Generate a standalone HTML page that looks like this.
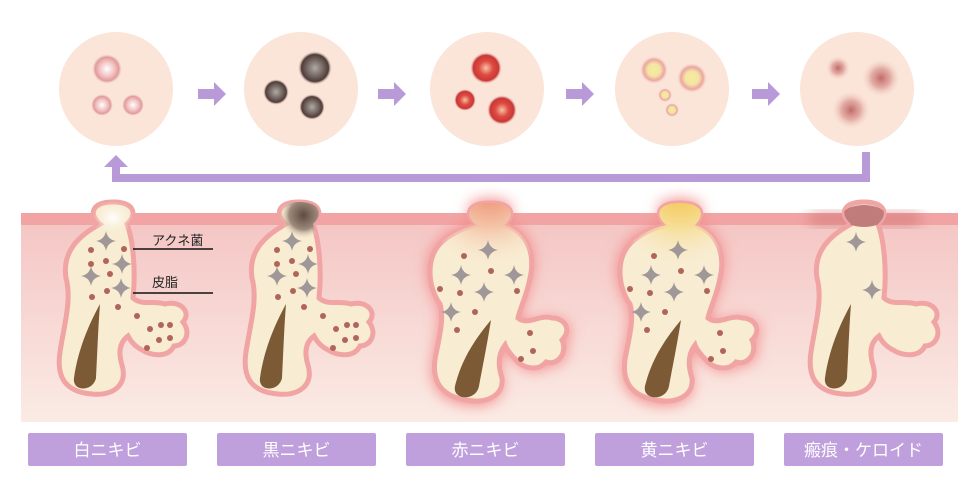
<!DOCTYPE html>
<html><head><meta charset="utf-8"><style>
html,body{margin:0;padding:0;background:#fff;width:980px;height:500px;overflow:hidden}
svg{display:block}
.lb{font-family:"Liberation Sans","Noto Sans CJK JP",sans-serif;font-size:17px;fill:#fff}
.an{font-family:"Liberation Sans","Noto Sans CJK JP",sans-serif;font-size:13px;fill:#222}
</style></head><body>
<svg width="980" height="500" viewBox="0 0 980 500">
<defs>
<linearGradient id="skin" x1="0" y1="0" x2="0" y2="1"><stop offset="0" stop-color="#f4c6c4"/><stop offset="1" stop-color="#fbebe5"/></linearGradient>
<radialGradient id="gw"><stop offset="0" stop-color="#fff"/><stop offset="0.5" stop-color="#f3c2c2"/><stop offset="0.8" stop-color="#e09a9c"/><stop offset="1" stop-color="#f6d8cc" stop-opacity="0"/></radialGradient>
<radialGradient id="gb"><stop offset="0" stop-color="#b0aaa6"/><stop offset="0.55" stop-color="#6e5f5a"/><stop offset="0.8" stop-color="#4e3c38"/><stop offset="1" stop-color="#f6d8cc" stop-opacity="0"/></radialGradient>
<radialGradient id="gr"><stop offset="0" stop-color="#f6c2a8"/><stop offset="0.45" stop-color="#de4a40"/><stop offset="0.8" stop-color="#c83838"/><stop offset="1" stop-color="#f6d8cc" stop-opacity="0"/></radialGradient>
<radialGradient id="gy"><stop offset="0" stop-color="#f6ec9c"/><stop offset="0.45" stop-color="#f4e4a4"/><stop offset="0.75" stop-color="#eca4a0"/><stop offset="1" stop-color="#f6d8cc" stop-opacity="0"/></radialGradient>
<radialGradient id="gs"><stop offset="0" stop-color="#c06a6a"/><stop offset="0.5" stop-color="#d8928c" stop-opacity="0.7"/><stop offset="1" stop-color="#f6d8cc" stop-opacity="0"/></radialGradient>
<radialGradient id="capW"><stop offset="0" stop-color="#fff"/><stop offset="1" stop-color="#f8ecd2" stop-opacity="0"/></radialGradient>
<radialGradient id="capB" cx="0.55" cy="0.4"><stop offset="0" stop-color="#5e4a40"/><stop offset="0.6" stop-color="#9e8a7c"/><stop offset="1" stop-color="#f8ecd2" stop-opacity="0"/></radialGradient>
<radialGradient id="capR" cx="0.5" cy="0.1" r="0.8"><stop offset="0" stop-color="#ec8060"/><stop offset="0.5" stop-color="#f4c0a4"/><stop offset="1" stop-color="#f8ecd2" stop-opacity="0"/></radialGradient>
<radialGradient id="capY" cx="0.5" cy="0.1" r="0.8"><stop offset="0" stop-color="#f2bc38"/><stop offset="0.5" stop-color="#f6dc90"/><stop offset="1" stop-color="#f8ecd2" stop-opacity="0"/></radialGradient>
<filter id="glow" x="-30%" y="-30%" width="160%" height="160%"><feGaussianBlur stdDeviation="7"/></filter>
<path id="fol" d="M100 224 C88 214 92 202 113 202 C134 202 138 214 127 224 C133 240 136 270 133 298 C142 306 152 300 165 304 C180 300 192 312 183 322 C192 334 184 346 174 346 C168 358 152 356 142 350 C134 346 130 340 128 336 C120 342 118 352 122 365 C128 386 112 396 92 394 C66 392 56 378 60 352 C64 325 72 300 66 278 C62 252 78 236 100 224 Z"/>
<path id="hair" d="M100 304 C98 330 97 360 96 378 C93 392 72 392 74 378 C78 350 88 326 100 304 Z"/>
<path id="folR" d="M476 225 C464 214 468 203 490 203 C512 203 516 214 505 225 C526 232 536 252 530 278 C527 295 520 308 518 318 C528 326 540 314 552 318 C565 318 572 330 562 340 C568 352 558 366 546 362 C538 372 522 368 516 360 C510 354 506 348 505 345 C498 354 498 366 502 378 C504 396 486 404 466 400 C442 396 430 382 436 354 C440 334 444 318 440 304 C428 288 424 256 444 240 C454 232 464 228 476 225 Z"/>
<path id="hairR" d="M491 320 C487 345 482 370 479 386 C476 402 452 400 455 386 C462 358 476 338 491 320 Z"/>
<clipPath id="c1"><use href="#fol"/></clipPath>
<clipPath id="cR"><use href="#folR"/></clipPath>
<path id="sp" d="M0 -10 Q1.5 -1.5 10 0 Q1.5 1.5 0 10 Q-1.5 1.5 -10 0 Q-1.5 -1.5 0 -10 Z"/>
<g id="dots" fill="#b0645a">
<circle cx="91" cy="250" r="3"/><circle cx="124" cy="249" r="3"/><circle cx="91" cy="264" r="3"/><circle cx="106" cy="261" r="3"/><circle cx="110" cy="274" r="3"/><circle cx="92" cy="297" r="3"/><circle cx="107" cy="291" r="3"/><circle cx="118" cy="307" r="3"/><circle cx="137" cy="316" r="3"/><circle cx="150" cy="329" r="3"/><circle cx="161" cy="325" r="3"/><circle cx="170" cy="325" r="3"/><circle cx="159" cy="340" r="3"/><circle cx="170" cy="338" r="3"/><circle cx="147" cy="348" r="3"/>
</g>
<g id="sps" fill="#a09898">
<use href="#sp" x="106" y="241"/><use href="#sp" x="122" y="264"/><use href="#sp" x="91" y="276"/><use href="#sp" x="121" y="288"/>
</g>
<g id="dotsR" fill="#b0645a">
<circle cx="464" cy="256" r="3"/><circle cx="491" cy="271" r="3"/><circle cx="440" cy="289" r="3"/><circle cx="460" cy="293" r="3"/><circle cx="517" cy="291" r="3"/><circle cx="475" cy="312" r="3"/><circle cx="457" cy="330" r="3"/><circle cx="530" cy="333" r="3"/><circle cx="533" cy="351" r="3"/><circle cx="521" cy="359" r="3"/>
</g>
<g id="spsR" fill="#a09898">
<use href="#sp" x="488" y="250"/><use href="#sp" x="461" y="275"/><use href="#sp" x="514" y="275"/><use href="#sp" x="484" y="292"/><use href="#sp" x="451" y="312"/>
</g>
</defs>

<g fill="#fbe4d8">
<circle cx="116" cy="89" r="57"/><circle cx="301" cy="89" r="57"/><circle cx="487" cy="89" r="57"/><circle cx="672" cy="89" r="57"/><circle cx="857" cy="89" r="57"/>
</g>
<circle cx="107" cy="69" r="15" fill="url(#gw)"/><circle cx="102" cy="105" r="11" fill="url(#gw)"/><circle cx="133" cy="105" r="11" fill="url(#gw)"/>
<circle cx="315" cy="68" r="17" fill="url(#gb)"/><circle cx="276" cy="92" r="13" fill="url(#gb)"/><circle cx="312" cy="107" r="13" fill="url(#gb)"/>
<circle cx="486" cy="68" r="16" fill="url(#gr)"/><circle cx="465" cy="100" r="11" fill="url(#gr)"/><circle cx="502" cy="110" r="15" fill="url(#gr)"/>
<circle cx="654" cy="70" r="14" fill="url(#gy)"/><circle cx="692" cy="78" r="15" fill="url(#gy)"/><circle cx="665" cy="95" r="7" fill="url(#gy)"/><circle cx="672" cy="110" r="7" fill="url(#gy)"/>
<circle cx="838" cy="68" r="12" fill="url(#gs)"/><circle cx="881" cy="78" r="19" fill="url(#gs)"/><circle cx="851" cy="110" r="19" fill="url(#gs)"/>

<g fill="#b89ad8">
<path d="M198 89 H214 V82 L226 94 L214 106 V99 H198 Z"/>
<path d="M378 89 H394 V82 L406 94 L394 106 V99 H378 Z"/>
<path d="M566 89 H582 V82 L594 94 L582 106 V99 H566 Z"/>
<path d="M752 89 H768 V82 L780 94 L768 106 V99 H752 Z"/>
<path d="M112 182 V167 H104 L116 155 L128 167 H120 V174 H862 V152 H870 V182 Z"/>
</g>

<rect x="21" y="222" width="937" height="200" fill="url(#skin)"/>
<rect x="21" y="213" width="937" height="12" fill="#f2a4a4"/>
<rect x="810" y="213" width="110" height="12" fill="#c86868" opacity="0.6" filter="url(#glow)"/>

<g>
<use href="#fol" fill="#f8ecd2" stroke="#f0a4a4" stroke-width="5"/>
<ellipse cx="113" cy="218" rx="22" ry="18" fill="url(#capW)" clip-path="url(#c1)"/>
<use href="#hair" fill="#7c5a36"/><use href="#dots"/><use href="#sps"/>
</g>
<g transform="translate(186,0)">
<use href="#fol" fill="#f8ecd2" stroke="#f0a4a4" stroke-width="5"/>
<ellipse cx="115" cy="220" rx="24" ry="24" fill="url(#capB)" clip-path="url(#c1)"/>
<use href="#hair" fill="#7c5a36"/><use href="#dots"/><use href="#sps"/>
</g>
<g>
<use href="#folR" fill="#f28a8a" filter="url(#glow)" transform="translate(490,300) scale(1.04) translate(-490,-300)"/>
<use href="#folR" fill="#f8ecd2" stroke="#f0a4a4" stroke-width="5"/>
<ellipse cx="490" cy="225" rx="50" ry="55" fill="url(#capR)" clip-path="url(#cR)"/>
<use href="#hairR" fill="#7c5a36"/><use href="#dotsR"/><use href="#spsR"/>
</g>
<g transform="translate(190,0)">
<use href="#folR" fill="#f28a8a" filter="url(#glow)" transform="translate(490,300) scale(1.04) translate(-490,-300)"/>
<use href="#folR" fill="#f8ecd2" stroke="#f0a4a4" stroke-width="5"/>
<ellipse cx="490" cy="225" rx="50" ry="55" fill="url(#capY)" clip-path="url(#cR)"/>
<use href="#hairR" fill="#7c5a36"/><use href="#dotsR"/><use href="#spsR"/>
</g>
<g transform="translate(751,0)">
<use href="#fol" fill="#f8ecd2" stroke="#f0a4a4" stroke-width="5"/>
<ellipse cx="113" cy="216" rx="22" ry="11" fill="#c07c7a" clip-path="url(#c1)"/>
<use href="#hair" fill="#7c5a36"/>
<g fill="#a09898"><use href="#sp" x="105" y="242"/><use href="#sp" x="121" y="290"/></g>
</g>

<text class="an" x="152" y="245">アクネ菌</text>
<line x1="133" y1="249" x2="213" y2="249" stroke="#111" stroke-width="1.5"/>
<text class="an" x="152" y="287">皮脂</text>
<line x1="133" y1="293" x2="213" y2="293" stroke="#111" stroke-width="1.5"/>

<g fill="#bf9fdc">
<rect x="28" y="433" width="159" height="33" rx="2"/><rect x="217" y="433" width="159" height="33" rx="2"/><rect x="406" y="433" width="159" height="33" rx="2"/><rect x="595" y="433" width="159" height="33" rx="2"/><rect x="784" y="433" width="159" height="33" rx="2"/>
</g>
<g class="lb" text-anchor="middle">
<text x="107.5" y="456">白ニキビ</text><text x="296.5" y="456">黒ニキビ</text><text x="485.5" y="456">赤ニキビ</text><text x="674.5" y="456">黄ニキビ</text><text x="863.5" y="456">瘢痕・ケロイド</text>
</g>
</svg>
</body></html>
